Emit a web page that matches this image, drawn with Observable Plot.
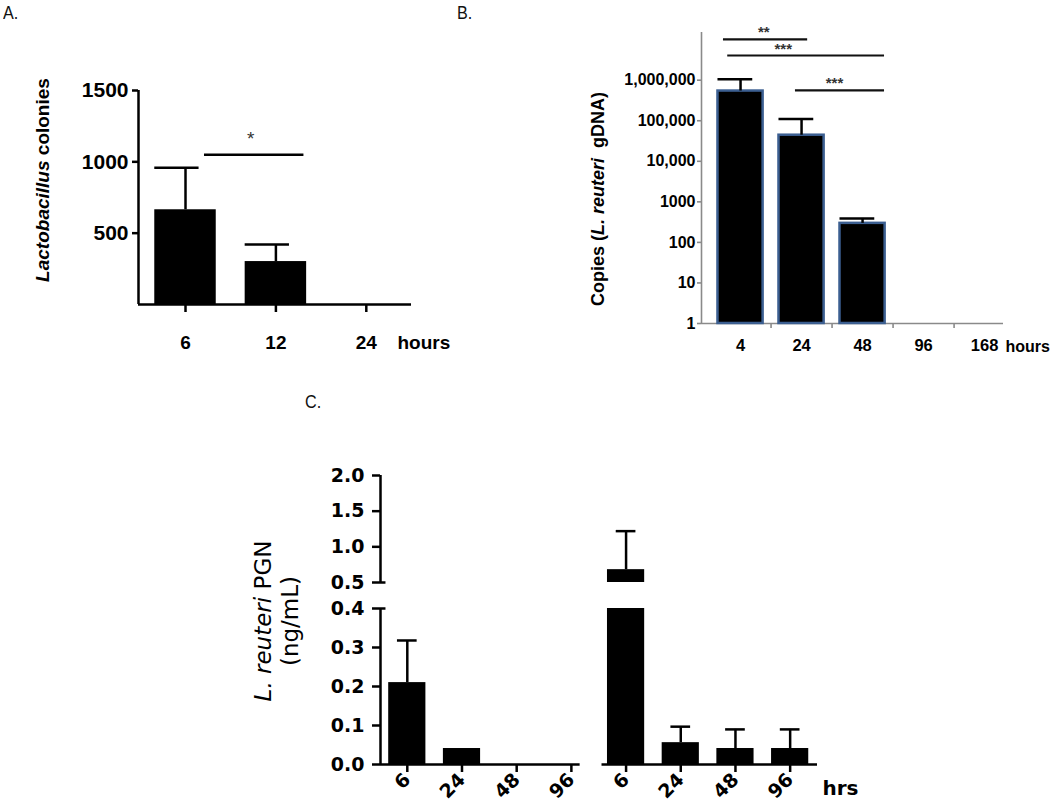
<!DOCTYPE html>
<html>
<head>
<meta charset="utf-8">
<script src="https://cdn.jsdelivr.net/npm/d3@7"></script>
<script src="https://cdn.jsdelivr.net/npm/@observablehq/plot@0.6"></script>
<style>
  html, body { margin: 0; padding: 0; background: #fff; }
  #root { position: relative; width: 1050px; height: 807px; background: #fff; overflow: hidden; }
  #root > svg { position: absolute; }
  .plabel { position: absolute; font-family: "Liberation Sans", Arial, sans-serif; font-size: 19px; line-height: 1; color: #111; transform: scaleX(0.85); transform-origin: 0 0; }
  .ytitle { position: absolute; white-space: nowrap; text-align: center; transform: translate(-50%, -50%) rotate(-90deg); color: #000; }
</style>
</head>
<body>
<div id="root">
  <div class="plabel" style="left:3px;top:3px;">A.</div>
  <div class="plabel" style="left:457px;top:3px;">B.</div>
  <div class="plabel" style="left:305px;top:392px;">C.</div>
  <div class="ytitle" style="left:43px;top:180px;font-family:'Liberation Sans',Arial,sans-serif;font-weight:bold;font-size:19px;"><i>Lactobacillus</i> colonies</div>
  <div class="ytitle" style="left:598px;top:199px;font-family:'Liberation Sans',Arial,sans-serif;font-weight:bold;font-size:18px;">Copies (<i>L. reuteri</i>&nbsp; gDNA)</div>
  <div class="ytitle" style="left:277px;top:621px;font-family:'DejaVu Sans',sans-serif;font-size:23px;line-height:27px;"><i>L. reuteri</i> PGN<br>(ng/mL)</div>
</div>
<script>
// ---------- Panel A data ----------
const hoursA = ["6", "12", "24"];
const meanA = [664, 301, 0];
const errA = [958, 420, 0];
const yTicksA = [500, 1000, 1500];
const sigA = [{x1: 0.21, x2: 1.31, y: 1049, label: "*"}];

// ---------- Panel B data ----------
const hoursB = ["4", "24", "48", "96", "168"];
const meanB = [540000, 44000, 295, 0, 0];
const errB = [1050000, 110000, 390, 0, 0];
const yTicksB = [1, 10, 100, 1000, 10000, 100000, 1000000];
const yTickLabelsB = ["1", "10", "100", "1000", "10,000", "100,000", "1,000,000"];
const sigB = [
  {x1: -0.28, x2: 1.10, y: 1.01e7, label: "**", lx: 0.38},
  {x1: -0.21, x2: 2.36, y: 4.06e6, label: "***", lx: 0.70},
  {x1: 0.90, x2: 2.36, y: 5.6e5, label: "***", lx: 1.54}
];

// ---------- Panel C data ----------
const hoursC = ["6", "24", "48", "96"];
const meanC1 = [0.21, 0.041, 0, 0];
const errC1 = [0.318, 0.041, 0, 0];
const meanC2 = [0.68, 0.056, 0.041, 0.041];
const errC2 = [1.22, 0.097, 0.09, 0.09];
const yTicksCLow = [0, 0.1, 0.2, 0.3, 0.4];
const yTicksCHigh = [0.5, 1.0, 1.5, 2.0];

const root = document.getElementById("root");
function place(svg, left, top) {
  svg.style.left = left + "px";
  svg.style.top = top + "px";
  root.appendChild(svg);
}

const ARIAL = "'Liberation Sans', Arial, Helvetica, sans-serif";
const DEJAVU = "'DejaVu Sans', sans-serif";

// ================= Panel A =================
{
  const data = hoursA.map((h, i) => ({i, h, v: meanA[i], e: errA[i]}));
  const bars = data.filter(d => d.v > 0);
  const errs = data.filter(d => d.e > d.v);
  const hb = 0.34;
  const xdom = [-0.52, 2.5];
  const svg = Plot.plot({
    width: 470, height: 370,
    marginLeft: 138, marginRight: 59, marginTop: 90, marginBottom: 66,
    x: {domain: xdom, label: null},
    y: {domain: [0, 1500], label: null},
    style: {fontFamily: ARIAL, fontWeight: "bold", background: "transparent", overflow: "visible", color: "#000"},
    marks: [
      Plot.rectY(bars, {x1: d => d.i - hb, x2: d => d.i + hb, y1: 0, y2: "v", fill: "#000"}),
      Plot.ruleX(errs, {x: "i", y1: "v", y2: "e", stroke: "#000", strokeWidth: 2.5}),
      Plot.ruleY(errs, {y: "e", x1: d => d.i - hb, x2: d => d.i + 0.15, stroke: "#000", strokeWidth: 2.5}),
      Plot.ruleX([xdom[0]], {y1: 0, y2: 1500, stroke: "#000", strokeWidth: 2.5}),
      Plot.ruleY([0], {x1: xdom[0], x2: xdom[1], stroke: "#000", strokeWidth: 2.5}),
      Plot.axisY({ticks: yTicksA, tickFormat: d => String(d), label: null, tickSize: 6, tickPadding: 4, fontSize: 21, fontWeight: "bold", fontFamily: ARIAL, strokeWidth: 2.5}),
      Plot.axisX({ticks: hoursA.map((h, i) => i), tickFormat: i => hoursA[i], label: null, tickSize: 8, tickPadding: 23, fontSize: 19, fontWeight: "bold", fontFamily: ARIAL, strokeWidth: 2.5}),
      Plot.text(["hours"], {frameAnchor: "bottom-right", textAnchor: "start", lineAnchor: "middle", dx: -14, dy: 38, fontSize: 19, fontWeight: "bold", fontFamily: ARIAL}),
      Plot.ruleY(sigA, {y: "y", x1: "x1", x2: "x2", stroke: "#000", strokeWidth: 2.5}),
      Plot.text(sigA, {x: d => (d.x1 + d.x2) / 2 - 0.04, y: "y", text: "label", lineAnchor: "bottom", dy: -10, fontSize: 19, fontWeight: "normal", fill: "#333"})
    ]
  });
  place(svg, 0, 0);
}

// ================= Panel B =================
{
  const data = hoursB.map((h, i) => ({i, h, v: meanB[i], e: errB[i]}));
  const bars = data.filter(d => d.v > 0);
  const errs = data.filter(d => d.e > d.v);
  const hb = 0.37;
  const xdom = [-0.64, 4.31];
  const ydom = [1, 1.5e7];
  const gray = "#8a8a8a";
  const svg = Plot.plot({
    width: 490, height: 370,
    marginLeft: 141, marginRight: 47, marginTop: 32, marginBottom: 47,
    x: {domain: xdom, label: null},
    y: {type: "log", domain: ydom, label: null},
    style: {fontFamily: ARIAL, fontWeight: "bold", background: "transparent", overflow: "visible", color: "#000"},
    marks: [
      Plot.ruleX([xdom[0]], {y1: ydom[0], y2: ydom[1], stroke: gray, strokeWidth: 1.6}),
      Plot.ruleY([ydom[0]], {x1: xdom[0], x2: xdom[1], stroke: gray, strokeWidth: 1.6}),
      Plot.axisY({ticks: yTicksB, tickFormat: d => yTickLabelsB[yTicksB.indexOf(d)], label: null, tickSize: 4, tickPadding: 2, fontSize: 16, fontWeight: "bold", fontFamily: ARIAL, stroke: gray, strokeWidth: 1.6}),
      Plot.axisX({ticks: hoursB.slice(1).map((h, i) => i + 0.5), tickFormat: () => "", label: null, tickSize: 5, stroke: gray, strokeWidth: 1.6}),
      Plot.axisX({ticks: hoursB.map((h, i) => i), tickFormat: i => hoursB[i], label: null, tickSize: 0, tickPadding: 16, fontSize: 16.5, fontWeight: "bold", fontFamily: ARIAL}),
      Plot.text(["hours"], {frameAnchor: "bottom-right", textAnchor: "start", lineAnchor: "middle", dx: 2, dy: 23, fontSize: 16, fontWeight: "bold", fontFamily: ARIAL}),
      Plot.rectY(bars, {x1: d => d.i - hb, x2: d => d.i + hb, y1: ydom[0], y2: "v", fill: "#000", stroke: "#3c5f91", strokeWidth: 2.5}),
      Plot.ruleX(errs, {x: "i", y1: "v", y2: "e", stroke: "#000", strokeWidth: 2.5}),
      Plot.ruleY(errs, {y: "e", x1: d => d.i - hb, x2: d => d.i + 0.2, stroke: "#000", strokeWidth: 2.5}),
      Plot.ruleY(sigB, {y: "y", x1: "x1", x2: "x2", stroke: "#111", strokeWidth: 2.2}),
      Plot.text(sigB, {x: "lx", y: "y", text: "label", lineAnchor: "bottom", dy: -2, fontSize: 15, fontWeight: "bold", fill: "#333"})
    ]
  });
  place(svg, 560, 0);
}

// ================= Panel C =================
{
  const data = [];
  hoursC.forEach((h, j) => data.push({i: j, h, v: meanC1[j], e: errC1[j]}));
  hoursC.forEach((h, j) => data.push({i: hoursC.length + j, h, v: meanC2[j], e: errC2[j]}));
  const bars = data.filter(d => d.v > 0);
  const errs = data.filter(d => d.e > d.v);
  const hb = 0.34, hc = 0.18;
  const xdom = [-0.49, 7.5];
  const axisSegments = [{x1: -0.49, x2: 3.16}, {x1: 3.56, x2: 7.5}];
  const common = {
    width: 640, height: 367, marginLeft: 140, marginRight: 63,
    style: {fontFamily: DEJAVU, fontWeight: "bold", background: "transparent", overflow: "visible", color: "#000"}
  };
  const dataMarks = [
    Plot.rectY(bars, {x1: d => d.i - hb, x2: d => d.i + hb, y1: 0, y2: "v", fill: "#000", clip: true}),
    Plot.ruleX(errs, {x: "i", y1: "v", y2: "e", stroke: "#000", strokeWidth: 2.5, clip: true}),
    Plot.ruleY(errs, {y: "e", x1: d => d.i - hc, x2: d => d.i + hc, stroke: "#000", strokeWidth: 2.5, clip: true})
  ];
  // lower segment 0 – 0.4
  const low = Plot.plot({
    ...common,
    marginTop: 168, marginBottom: 43,
    x: {domain: xdom, label: null},
    y: {domain: [0, 0.4], label: null},
    marks: [
      ...dataMarks,
      Plot.ruleX([xdom[0]], {y1: 0, y2: 0.4, stroke: "#000", strokeWidth: 2.5}),
      Plot.ruleY([0.4], {x1: xdom[0], x2: xdom[0] + 0.1, stroke: "#000", strokeWidth: 2.5}),
      Plot.ruleY(axisSegments, {y: 0, x1: "x1", x2: "x2", stroke: "#000", strokeWidth: 2.5}),
      Plot.axisY({ticks: yTicksCLow, tickFormat: d3.format(".1f"), label: null, tickSize: 8, tickPadding: 8, fontSize: 19, fontWeight: "bold", fontFamily: DEJAVU, strokeWidth: 2.5}),
      Plot.axisX({ticks: data.map(d => d.i), tickFormat: i => hoursC[i % hoursC.length], label: null, tickSize: 8, tickPadding: 4, tickRotate: -45, fontSize: 19, fontWeight: "bold", fontFamily: DEJAVU, strokeWidth: 2.5}),
      Plot.text(["hrs"], {frameAnchor: "bottom-right", textAnchor: "start", lineAnchor: "middle", dx: 5, dy: 24, fontSize: 20, fontWeight: "bold", fontFamily: DEJAVU})
    ]
  });
  place(low, 240, 440);
  // upper segment 0.5 – 2.0
  const high = Plot.plot({
    ...common,
    marginTop: 35, marginBottom: 225,
    x: {domain: xdom, label: null, axis: null},
    y: {domain: [0.5, 2.0], label: null},
    marks: [
      ...dataMarks,
      Plot.ruleX([xdom[0]], {y1: 0.5, y2: 2.0, stroke: "#000", strokeWidth: 2.5}),
      Plot.ruleY([0.5], {x1: xdom[0], x2: xdom[0] + 0.1, stroke: "#000", strokeWidth: 2.5}),
      Plot.axisY({ticks: yTicksCHigh, tickFormat: d3.format(".1f"), label: null, tickSize: 8, tickPadding: 8, fontSize: 19, fontWeight: "bold", fontFamily: DEJAVU, strokeWidth: 2.5})
    ]
  });
  place(high, 240, 440);
}
</script>
</body>
</html>
